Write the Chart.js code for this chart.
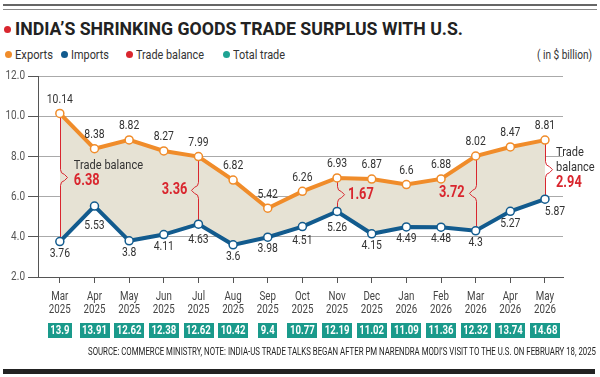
<!DOCTYPE html>
<html>
<head>
<meta charset="utf-8">
<script src="https://cdn.jsdelivr.net/npm/chart.js@4.4.1/dist/chart.umd.min.js"></script>
<style>
  body { margin:0; width:600px; height:377px; position:relative; overflow:hidden; background:#fff;
         font-family:Roboto,"Liberation Sans",sans-serif; color:#333; }
  .rule1 { position:absolute; left:3px; right:3px; top:4px; height:2px; background:#666; }
  .rule2 { position:absolute; left:3px; right:3px; top:9px; height:1px; background:#888; }
  .fit { position:absolute; white-space:nowrap; transform-origin:0 50%; }
  .title { left:15px; top:18px; font-size:19px; font-weight:bold; color:#222; line-height:22px; }
  .title-dot { position:absolute; left:4px; top:26px; width:7px; height:7px; border-radius:50%; background:#d9262e; }
  .dot { position:absolute; width:7px; height:7px; border-radius:50%; top:51px; }
  .leg { top:46px; font-size:13px; line-height:17px; color:#333; }
  .source { top:345px; font-size:11px; line-height:14px; color:#222; }
  .bottom { position:absolute; left:3px; right:5px; top:369px; height:5px; background:#222; }
  canvas { position:absolute; left:0; top:0; }
</style>
</head>
<body>
<div class="rule1"></div>
<div class="rule2"></div>
<div class="title-dot"></div>
<div class="fit title" data-w="448">INDIA’S SHRINKING GOODS TRADE SURPLUS WITH U.S.</div>
<div class="dot" style="left:5px;background:#f08c2a"></div>
<div class="fit leg" style="left:15px" data-w="38">Exports</div>
<div class="dot" style="left:61px;background:#125b8e"></div>
<div class="fit leg" style="left:71px" data-w="38">Imports</div>
<div class="dot" style="left:126px;background:#d9262e"></div>
<div class="fit leg" style="left:136px" data-w="68">Trade balance</div>
<div class="dot" style="left:223px;background:#1fa393"></div>
<div class="fit leg" style="left:233px" data-w="52">Total trade</div>
<div class="fit leg" style="left:537px" data-w="55">( in $ billion)</div>
<canvas id="chart" width="600" height="377"></canvas>
<div class="fit source" style="left:88px" data-w="508">SOURCE: COMMERCE MINISTRY, NOTE: INDIA-US TRADE TALKS BEGAN AFTER PM NARENDRA MODI’S VISIT TO THE U.S. ON FEBRUARY 18, 2025</div>
<div class="bottom"></div>

<script>
// 데이터
const months = ["Mar","Apr","May","Jun","Jul","Aug","Sep","Oct","Nov","Dec","Jan","Feb","Mar","Apr","May"];
const years = ["2025","2025","2025","2025","2025","2025","2025","2025","2025","2025","2026","2026","2026","2026","2026"];
const exportsData = [10.14, 8.38, 8.82, 8.27, 7.99, 6.82, 5.42, 6.26, 6.93, 6.87, 6.6, 6.88, 8.02, 8.47, 8.81];
const importsData = [3.76, 5.53, 3.8, 4.11, 4.63, 3.6, 3.98, 4.51, 5.26, 4.15, 4.49, 4.48, 4.3, 5.27, 5.87];
const totalTrade = [13.9, 13.91, 12.62, 12.38, 12.62, 10.42, 9.4, 10.77, 12.19, 11.02, 11.09, 11.36, 12.32, 13.74, 14.68];
const balanceIdx = [0, 4, 8, 12, 14];
const balanceValues = [6.38, 3.36, 1.67, 3.72, 2.94];
const yTicks = [2, 4, 6, 8, 10, 12];

const ORANGE = '#f08c2a', BLUE = '#125b8e', RED = '#d9262e', TEAL = '#1a9a8b';
const FONT = 'Roboto, sans-serif';

// HTML 텍스트 가로폭 맞추기 (좁은 글꼴 흉내)
document.querySelectorAll('.fit').forEach(el => {
  const w = el.getBoundingClientRect().width;
  el.style.transform = 'scaleX(' + (parseFloat(el.dataset.w) / w) + ')';
});

// 캔버스 글자: 가로로 눌러서 그림
function txt(ctx, s, x, y, font, color, align, sx) {
  ctx.save();
  ctx.font = font;
  ctx.fillStyle = color;
  ctx.textAlign = align || 'center';
  ctx.textBaseline = 'middle';
  ctx.translate(x, y);
  ctx.scale(sx || 0.8, 1);
  ctx.fillText(s, 0, 0);
  ctx.restore();
}

// 트레이드 밸런스 괄호 방향 (1: 오른쪽, -1: 왼쪽)
const braceDir = [1, -1, 1, -1, 1];
// 수입 라벨 위치 보정
const impDy = {1: 20, 4: 16, 7: 14, 8: 16};

const annotate = {
  id: 'annotate',
  beforeDatasetsDraw(chart) {
    const {ctx, scales: {x, y}} = chart;
    ctx.save();
    ctx.strokeStyle = RED;
    ctx.lineWidth = 1;
    balanceIdx.forEach((i, k) => {
      const px = Math.round(x.getPixelForValue(i)) + 0.5;
      const top = y.getPixelForValue(exportsData[i]);
      const bot = y.getPixelForValue(importsData[i]);
      const mid = (top + bot) / 2;
      const d = braceDir[k];
      ctx.beginPath();
      ctx.moveTo(px, top);
      ctx.lineTo(px, mid - 8);
      ctx.quadraticCurveTo(px, mid - 4, px + d * 4, mid - 3);
      ctx.lineTo(px + d * 7, mid);
      ctx.lineTo(px + d * 4, mid + 3);
      ctx.quadraticCurveTo(px, mid + 4, px, mid + 8);
      ctx.lineTo(px, bot);
      ctx.stroke();
    });
    ctx.restore();
  },
  afterDatasetsDraw(chart) {
    const {ctx, scales: {x, y}} = chart;
    const lab = '13px ' + FONT;
    exportsData.forEach((v, i) => {
      txt(ctx, String(v), x.getPixelForValue(i), y.getPixelForValue(v) - 14, lab, '#333');
    });
    importsData.forEach((v, i) => {
      let px = x.getPixelForValue(i), dy = impDy[i] || 12;
      if (i === 14) { px += 10; dy = 13; }
      txt(ctx, String(v), px, y.getPixelForValue(v) + dy, lab, '#333');
    });

    // trade balance 값
    balanceIdx.forEach((i, k) => {
      const px = x.getPixelForValue(i);
      const mid = (y.getPixelForValue(exportsData[i]) + y.getPixelForValue(importsData[i])) / 2;
      const d = braceDir[k];
      const al = d > 0 ? 'left' : 'right';
      const tx = px + d * 11;
      let vy = mid;
      if (k === 0) {
        txt(ctx, 'Trade balance', tx + 3, mid - 12, lab, '#333', al, 0.85);
        vy = mid + 3;
      }
      if (k === 4) {
        txt(ctx, 'Trade', tx, mid - 17, lab, '#333', al, 0.85);
        txt(ctx, 'balance', tx, mid - 2, lab, '#333', al, 0.85);
        vy = mid + 13;
      }
      txt(ctx, balanceValues[k].toFixed(2), k === 0 ? tx + 3 : tx, vy, 'bold 16px ' + FONT, RED, al, 0.8);
    });

    // x축 라벨
    months.forEach((m, i) => {
      const px = x.getPixelForValue(i);
      txt(ctx, m, px, 297, '12.5px ' + FONT, '#444', 'center', 0.78);
      txt(ctx, years[i], px, 310, '12.5px ' + FONT, '#444', 'center', 0.78);
    });
    // y축 라벨
    yTicks.forEach(v => {
      txt(ctx, v.toFixed(1), 25, y.getPixelForValue(v), '12.5px ' + FONT, '#555', 'right', 0.8);
    });

    // total trade 박스
    ctx.save();
    ctx.font = 'bold 12px ' + FONT;
    totalTrade.forEach((v, i) => {
      const px = x.getPixelForValue(i);
      const w = ctx.measureText(String(v)).width * 0.8 + 5;
      ctx.fillStyle = TEAL;
      ctx.fillRect(Math.round(px - w / 2), 323, Math.round(w), 15);
      txt(ctx, String(v), px, 331, 'bold 12px ' + FONT, '#fff', 'center', 0.8);
    });
    ctx.restore();
  }
};

const chart = new Chart(document.getElementById('chart'), {
  type: 'line',
  data: {
    labels: months,
    datasets: [{
      label: 'Exports',
      data: exportsData.map((v, i) => ({x: i, y: v})),
      borderColor: ORANGE,
      borderWidth: 4,
      pointRadius: 4,
      pointBackgroundColor: '#fff',
      pointBorderColor: ORANGE,
      pointBorderWidth: 1.5,
      fill: '+1',
      backgroundColor: '#e6e2d4',
      tension: 0
    }, {
      label: 'Imports',
      data: importsData.map((v, i) => ({x: i, y: v})),
      borderColor: BLUE,
      borderWidth: 4,
      pointRadius: 4,
      pointBackgroundColor: '#fff',
      pointBorderColor: BLUE,
      pointBorderWidth: 1.5,
      fill: false,
      tension: 0
    }]
  },
  options: {
    responsive: false,
    animation: false,
    layout: { padding: { top: 76, right: 37, bottom: 70, left: 0 } },
    plugins: {
      legend: { display: false },
      tooltip: { enabled: false },
      filler: { drawTime: 'beforeDatasetsDraw' }
    },
    scales: {
      x: {
        type: 'linear',
        min: -0.63,
        max: 14.52,
        afterBuildTicks(scale) { scale.ticks = months.map((m, i) => ({value: i})); },
        afterFit(scale) { scale.height = 30; },
        grid: { drawOnChartArea: false, drawTicks: true, tickLength: 6, color: '#555' },
        border: { color: '#555', width: 1 },
        ticks: { display: false }
      },
      y: {
        min: 2,
        max: 12,
        afterBuildTicks(scale) { scale.ticks = yTicks.map(v => ({value: v})); },
        afterFit(scale) { scale.width = 38; },
        grid: { color: '#aaa', borderDash: [2, 2], tickLength: 10, tickColor: '#555', tickBorderDash: [] },
        border: { color: '#555', width: 1 },
        ticks: { display: false }
      }
    }
  },
  plugins: [annotate]
});
</script>
</body>
</html>
